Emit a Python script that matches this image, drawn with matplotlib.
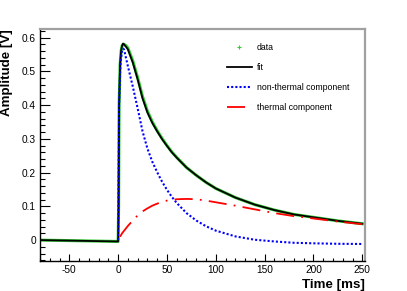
import matplotlib
matplotlib.use('Agg')
import matplotlib.pyplot as plt
from matplotlib.lines import Line2D

plt.rcParams['font.family'] = ['Liberation Sans', 'DejaVu Sans']
plt.rcParams['axes.unicode_minus'] = False

# times in ms
t_fit = [-80, -40, -1, 0, 0.5, 1, 2, 3, 4, 5, 6, 8, 10, 15, 20, 25, 30, 35, 40, 45, 50,
         55, 60, 70, 80, 90, 100, 120, 140, 160, 180, 200, 225, 250]
fit = [0.0, -0.002, -0.004, -0.004, 0.10, 0.40, 0.52, 0.56, 0.575, 0.582, 0.58, 0.573,
       0.565, 0.526, 0.476, 0.42, 0.378, 0.347, 0.322, 0.299, 0.279, 0.26, 0.244, 0.215,
       0.192, 0.171, 0.153, 0.126, 0.105, 0.089, 0.076, 0.0675, 0.057, 0.0485]
data = [0.0, -0.002, -0.004, -0.004, 0.10, 0.40, 0.52, 0.56, 0.575, 0.58, 0.58, 0.576,
        0.569, 0.531, 0.481, 0.425, 0.382, 0.35, 0.324, 0.301, 0.28, 0.261, 0.245, 0.215,
        0.192, 0.171, 0.153, 0.126, 0.105, 0.089, 0.076, 0.0675, 0.057, 0.0485]

t_nt = [0, 1, 2, 3, 4, 5, 6, 8, 10, 15, 20, 25, 30, 35, 40, 45, 50, 55, 60, 70, 80, 90,
        100, 120, 140, 160, 180, 200, 225, 250]
nonthermal = [0.0, 0.40, 0.50, 0.54, 0.56, 0.567, 0.565, 0.54, 0.515, 0.455, 0.39,
              0.322, 0.271, 0.232, 0.201, 0.173, 0.149, 0.128, 0.110, 0.080, 0.058,
              0.041, 0.028, 0.011, 0.001, -0.004, -0.008, -0.0095, -0.011, -0.0115]

t_th = [2, 4, 10, 15, 20, 25, 30, 35, 40, 45, 50, 55, 60, 70, 80, 90, 100, 120, 140,
        160, 180, 200, 225, 250]
thermal = [0.01, 0.02, 0.042, 0.058, 0.073, 0.085, 0.094, 0.102, 0.108, 0.113, 0.117,
           0.119, 0.121, 0.122, 0.121, 0.117, 0.112, 0.102, 0.091, 0.080, 0.071, 0.064,
           0.055, 0.047]

fig = plt.figure(figsize=(4.07, 2.91), dpi=100)
ax = fig.add_axes([0.0983, 0.103, 0.799, 0.797])

ax.plot(t_fit, data, color='#33cc33', lw=2.2, zorder=2)
ax.plot(t_fit, fit, color='black', lw=1.3, zorder=3)
ax.plot(t_nt, nonthermal, color='#0000ff', lw=1.5, ls=(0, (1, 1)), zorder=4)
ax.plot(t_th, thermal, color='#ff0000', lw=1.3, ls=(0, (10, 4, 1, 4)), zorder=4)

ax.set_xlim(-80, 253)
ax.set_ylim(-0.062, 0.625)
ax.set_xticks([-50, 0, 50, 100, 150, 200, 250])
ax.set_xticks(range(-80, 251, 10), minor=True)
ax.set_yticks([0, 0.1, 0.2, 0.3, 0.4, 0.5, 0.6])
ax.set_yticklabels(['0', '0.1', '0.2', '0.3', '0.4', '0.5', '0.6'])
ax.set_yticks([i * 0.02 for i in range(-3, 32)], minor=True)

ax.tick_params(axis='both', which='both', direction='in', labelsize=7.3,
               top=False, right=False, width=0.8)
ax.tick_params(axis='y', which='major', length=7.5, pad=3)
ax.tick_params(axis='y', which='minor', length=3.7)
ax.tick_params(axis='x', which='major', length=5, pad=3)
ax.tick_params(axis='x', which='minor', length=2.5)

for s in ['left', 'bottom']:
    ax.spines[s].set_color('black')
    ax.spines[s].set_linewidth(1.0)
for s in ['top', 'right']:
    ax.spines[s].set_color('#a0a0a0')
    ax.spines[s].set_linewidth(1.6)

ax.set_xlabel('Time [ms]', fontsize=9.6, fontweight='bold', loc='right', labelpad=3)
ax.set_ylabel('Amplitude [V]', fontsize=9.6, fontweight='bold', loc='top', labelpad=6)

handles = [
    Line2D([], [], color='#33cc33', marker='+', ls='none', markersize=3, mew=0.8),
    Line2D([], [], color='black', lw=1.3),
    Line2D([], [], color='#0000ff', lw=1.5, ls=(0, (1, 1))),
    Line2D([], [], color='#ff0000', lw=1.3, ls=(0, (10, 4, 1, 4))),
]
labels = ['data', 'fit', 'non-thermal component', 'thermal component']
ax.legend(handles, labels, loc='upper left', bbox_to_anchor=(0.563, 0.96),
          frameon=False, fontsize=6.3, handlelength=2.75, handletextpad=0.6,
          labelspacing=1.25, borderpad=0)

fig.savefig('out.png', dpi=100)
